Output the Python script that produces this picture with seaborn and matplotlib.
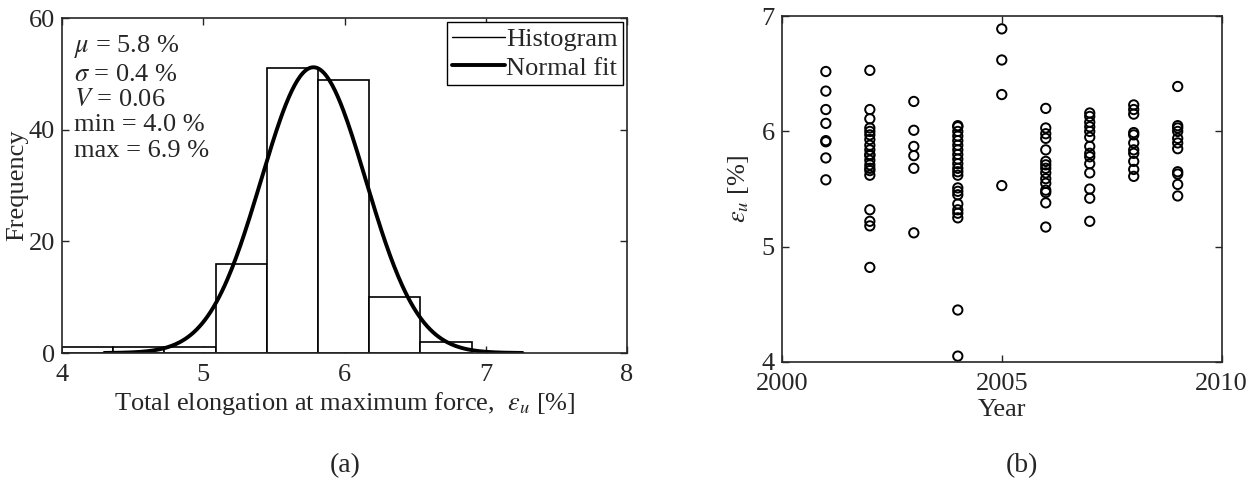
import numpy as np
import pandas as pd
import matplotlib
matplotlib.use("Agg")
import matplotlib.pyplot as plt
from matplotlib.lines import Line2D
import seaborn as sns

# histogram (a): 8 bins between min and max
bin_edges = [4.0, 4.3625, 4.725, 5.0875, 5.45, 5.8125, 6.175, 6.5375, 6.9]
bin_counts = [1, 1, 1, 16, 51, 49, 10, 2]
fit_mu = 5.78
fit_sigma = 0.37
stats_lines = [r"$\mu$ = 5.8 %", r"$\sigma$ = 0.4 %", r"$V$ = 0.06", "min = 4.0 %", "max = 6.9 %"]

# scatter (b): elongation per year
eps_2001 = [6.52, 6.35, 6.19, 6.07, 5.92, 5.91, 5.77, 5.58]
eps_2002 = [6.53, 6.19, 6.11, 6.03, 6.00, 5.97, 5.93, 5.88, 5.84, 5.80, 5.79, 5.75,
            5.71, 5.68, 5.66, 5.62, 5.32, 5.22, 5.18, 4.82]
eps_2003 = [6.26, 6.01, 5.87, 5.79, 5.68, 5.12]
eps_2004 = [6.05, 6.04, 6.00, 5.96, 5.92, 5.88, 5.84, 5.80, 5.76, 5.72, 5.68, 5.65,
            5.62, 5.51, 5.48, 5.45, 5.37, 5.32, 5.29, 5.25, 4.45, 4.05]
eps_2005 = [6.89, 6.62, 6.32, 5.53]
eps_2006 = [6.20, 6.03, 5.98, 5.94, 5.84, 5.74, 5.71, 5.68, 5.64, 5.59, 5.55, 5.49,
            5.47, 5.38, 5.17]
eps_2007 = [6.16, 6.13, 6.08, 6.04, 6.00, 5.95, 5.87, 5.81, 5.78, 5.72, 5.64, 5.50,
            5.42, 5.22]
eps_2008 = [6.23, 6.19, 6.15, 5.99, 5.97, 5.90, 5.84, 5.81, 5.74, 5.67, 5.61]
eps_2009 = [6.39, 6.05, 6.03, 6.00, 5.94, 5.90, 5.85, 5.65, 5.63, 5.54, 5.44]
years = [2001, 2002, 2003, 2004, 2005, 2006, 2007, 2008, 2009]

sns.set_style("ticks")
plt.rcParams["font.family"] = ["Liberation Serif", "DejaVu Serif"]
plt.rcParams["mathtext.fontset"] = "stix"
plt.rcParams["font.size"] = 19

fig = plt.figure(figsize=(12.53, 4.91), dpi=100)
ax1 = fig.add_axes([0.0495, 0.281, 0.4509, 0.682])
ax2 = fig.add_axes([0.624, 0.263, 0.351, 0.704])

# (a) histogram + normal fit
centers = [(a + b) / 2 for a, b in zip(bin_edges[:-1], bin_edges[1:])]
sns.histplot(x=centers, weights=bin_counts, bins=bin_edges, color="white", alpha=1,
             edgecolor="black", linewidth=1.2, ax=ax1)
width = bin_edges[1] - bin_edges[0]
xf = np.linspace(fit_mu - 4 * fit_sigma, fit_mu + 4 * fit_sigma, 300)
yf = sum(bin_counts) * width / (fit_sigma * np.sqrt(2 * np.pi)) * np.exp(-0.5 * ((xf - fit_mu) / fit_sigma) ** 2)
sns.lineplot(x=xf, y=yf, color="black", linewidth=2.8, ax=ax1)
ax1.set_xlim(4, 8)
ax1.set_ylim(0, 60)
ax1.set_xticks([4, 5, 6, 7, 8])
ax1.set_yticks([0, 20, 40, 60])
ax1.set_xlabel(r"Total elongation at maximum force,  $\varepsilon_u$ [%]", labelpad=3)
ax1.set_ylabel("Frequency", labelpad=0)
ax1.text(0.022, 0.955, "\n".join(stats_lines), transform=ax1.transAxes, va="top",
         ha="left", linespacing=1.2)
handles = [Line2D([], [], color="black", linewidth=1.0),
           Line2D([], [], color="black", linewidth=2.8)]
ax1.legend(handles, ["Histogram", "Normal fit"], loc="upper right", frameon=True,
           fancybox=False, edgecolor="black", handlelength=2.0, handletextpad=0.05,
           borderpad=0.2, labelspacing=0.2, borderaxespad=0.15, framealpha=1)

# (b) scatter by year
all_eps = [eps_2001, eps_2002, eps_2003, eps_2004, eps_2005, eps_2006, eps_2007, eps_2008, eps_2009]
df = pd.DataFrame({"year": np.repeat(years, [len(e) for e in all_eps]),
                   "eps": np.concatenate(all_eps)})
sns.scatterplot(data=df, x="year", y="eps", marker="o", s=45, facecolors="none",
                edgecolor="black", linewidth=1.4, ax=ax2)
ax2.set_xlim(2000, 2010)
ax2.set_ylim(4, 7)
ax2.set_xticks([2000, 2005, 2010])
ax2.set_yticks([4, 5, 6, 7])
ax2.set_xlabel("Year", labelpad=3)
ax2.set_ylabel(r"$\varepsilon_u$ [%]", labelpad=8)

for ax in (ax1, ax2):
    ax.tick_params(direction="in", top=True, right=True, length=5, width=1, labelsize=19, pad=5)
    ax.tick_params(axis="x", pad=8)
    for sp in ax.spines.values():
        sp.set_linewidth(1.2)
        sp.set_visible(True)

fig.text(345 / 1253, 1 - 466 / 491, "(a)", ha="center", va="center", fontsize=20)
fig.text(1022 / 1253, 1 - 466 / 491, "(b)", ha="center", va="center", fontsize=20)

fig.savefig("out.png", dpi=100)
